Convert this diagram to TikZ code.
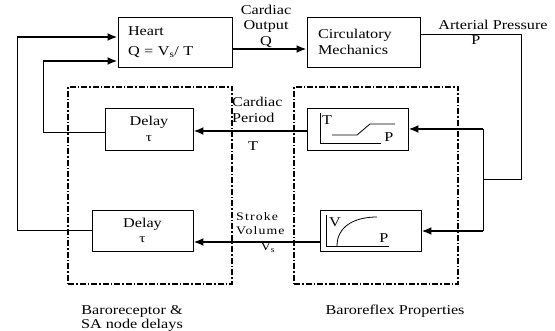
\documentclass[tikz,border=0pt]{standalone}
\usepackage{fontspec}
\setmainfont{Liberation Serif}[FakeStretch=1.2]
\usetikzlibrary{arrows.meta,positioning}

\begin{document}
\begin{tikzpicture}[x=1pt,y=-1pt,
    box/.style={draw, line width=0.9pt, inner sep=0pt},
    lbl/.style={inner sep=0pt, font=\fontsize{13.5}{15.5}\selectfont, align=center},
    spaced/.style={inner sep=0pt, font=\fontsize{11.5}{14}\selectfont\addfontfeature{LetterSpace=10}, align=left},
    arrow/.style={-{Latex[length=10pt,width=8pt]}, line width=2pt},
    wire/.style={line width=0.8pt},
    group/.style={draw, line width=1.4pt, dash pattern=on 6pt off 2pt on 1.5pt off 2pt, minimum width=164pt, minimum height=197pt}
  ]
    \useasboundingbox (0,0) rectangle (555,331);

    % dash-dot groups
    \node[group] (delays) at (150,185.5) {};
    \node[group] (props) at (376,185.5) {};

    % boxes
    \node[box, lbl, minimum width=114pt, minimum height=50pt, text width=94pt, align=left] (heart) at (175,42)
      {Heart\\[4pt]Q = V\textsubscript{s}/ T};
    \node[box, lbl, minimum width=113pt, minimum height=50pt, text width=91pt, align=left] (circ) at (363.5,42)
      {Circulatory\\Mechanics};
    \node[box, minimum width=101pt, minimum height=42pt] (tgraph) at (357.5,129) {};
    \node[box, minimum width=101pt, minimum height=41pt] (vgraph) at (370.5,230.5) {};
    \node[box, lbl, minimum width=88pt, minimum height=42pt] (tdelay) at (149,129)
      {Delay\\{\fontsize{12.5}{13}\selectfont τ}};
    \node[box, lbl, minimum width=101pt, minimum height=41pt] (bdelay) at (142.5,230.5)
      {Delay\\{\fontsize{12.5}{13}\selectfont τ}};

    % curves in the property boxes
    \draw[wire] (320,113) -- (320,143) -- (381,143);
    \draw[wire] (332,135) -- (357,135) -- (370,124) -- (395,124);
    \draw[wire] (326,215) -- (326,246) -- (389,246);
    \draw[wire] (337,246) .. controls (337,226) and (355,217) .. (377,217);
    \node[lbl] (tax) at (327,120) {T};
    \node[lbl] (tp) at (389,137) {P};
    \node[lbl] (vax) at (335,222) {V};
    \node[lbl] (vp) at (384,238) {P};

    % coordinates for the feedback paths
    \coordinate (pright) at (521,179);
    \coordinate (tap) at (483,179);
    \coordinate (ttap) at (483,129);
    \coordinate (btap) at (483,231);
    \coordinate (tturn) at (43,61);
    \coordinate (bturn) at (17,37);

    % connectors
    \draw[arrow] ([yshift=-7pt]heart.east) -- ([yshift=-7pt]circ.west);
    \draw[wire] ([yshift=8pt]circ.east) -| (pright) -- (tap);
    \draw[wire] (ttap) -- (btap);
    \draw[arrow] (ttap) -- (ttap -| tgraph.east);
    \draw[arrow] (btap) -- (btap -| vgraph.east);
    \draw[arrow] ([yshift=-2pt]tgraph.west) -- ([yshift=-2pt]tdelay.east);
    \draw[arrow] ([yshift=-11.5pt]vgraph.west) -- ([yshift=-11.5pt]bdelay.east);
    \draw[wire] ([yshift=-3pt]tdelay.west) -| (tturn);
    \draw[arrow] (tturn) -- (tturn -| heart.west);
    \draw[wire] (bdelay.west) -| (bturn);
    \draw[arrow] (bturn) -- (bturn -| heart.west);

    % labels
    \node[lbl] (colbl) at (266,26) {Cardiac\\Output\\Q};
    \node[lbl] (aplbl) at (493,25) {Arterial Pressure};
    \node[lbl] (aplp) at (476,40) {P};
    \node[lbl, align=left, anchor=north west] (cplbl) at (232,97) {Cardiac\\Period};
    \node[lbl] (cpt) at (253,146) {T};
    \node[spaced, anchor=north west] (svlbl) at (236,212) {Stroke\\Volume};
    \node[spaced] (svv) at (268,248) {V\textsubscript{s}};
    \node[lbl, font=\fontsize{13.5}{14}\selectfont, anchor=north] (dlbl) at (132,305) {Baroreceptor \&\\SA node delays};
    \node[lbl, anchor=north] (plbl) at (395,305) {Baroreflex Properties};
  \end{tikzpicture}
\end{document}
